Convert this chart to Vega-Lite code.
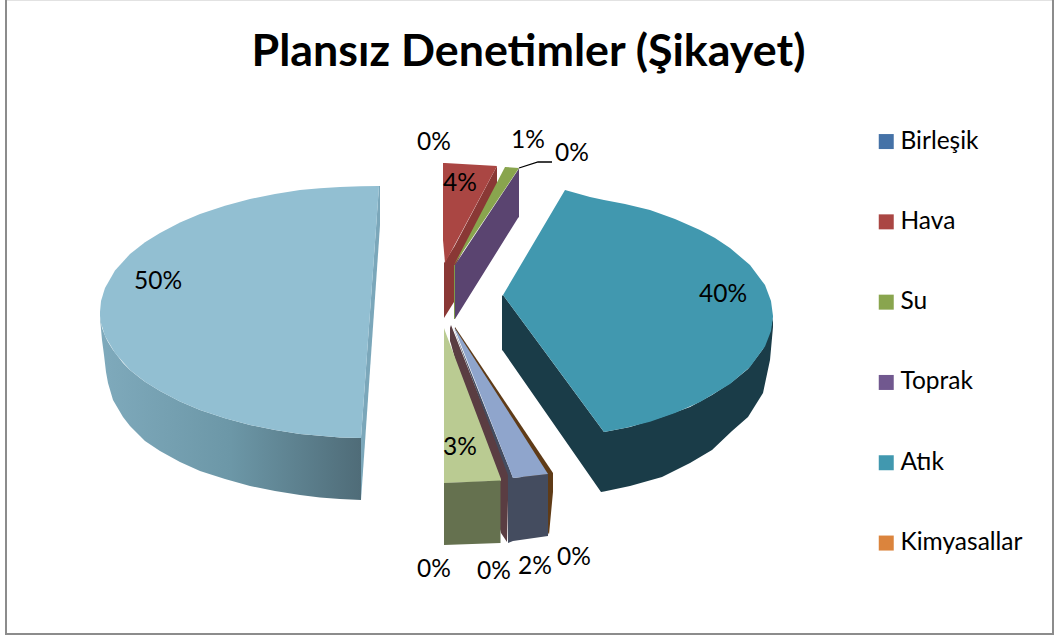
{"$schema":"https://vega.github.io/schema/vega-lite/v6.json","width":1047,"height":634.7,"autosize":"none","padding":{"left":6,"right":2,"top":-0.7,"bottom":3},"background":"#ffffff","view":{"stroke":"#8c8c8c","strokeWidth":2,"fill":"#ffffff"},"title":{"text":"Plansız Denetimler (Şikayet)","font":"Lato","fontWeight":"bold","fontSize":44.8,"color":"#000000","anchor":"middle","frame":"group","offset":-76.5,"dx":-1},"datasets":{"dilimler":[
{"parca":"Dilim 50 yan","z":0,"x":100,"y":316,"y2":318},{"parca":"Dilim 50 yan","z":0,"x":102,"y":328,"y2":340},{"parca":"Dilim 50 yan","z":0,"x":104,"y":333,"y2":355},{"parca":"Dilim 50 yan","z":0,"x":106,"y":338,"y2":372},{"parca":"Dilim 50 yan","z":0,"x":108,"y":342,"y2":383},{"parca":"Dilim 50 yan","z":0,"x":113,"y":350,"y2":400},{"parca":"Dilim 50 yan","z":0,"x":123,"y":363,"y2":417},{"parca":"Dilim 50 yan","z":0,"x":130,"y":370,"y2":426},{"parca":"Dilim 50 yan","z":0,"x":140,"y":378,"y2":436},{"parca":"Dilim 50 yan","z":0,"x":145,"y":381.7,"y2":441},{"parca":"Dilim 50 yan","z":0,"x":160,"y":391,"y2":451},{"parca":"Dilim 50 yan","z":0,"x":180,"y":401.5,"y2":462},{"parca":"Dilim 50 yan","z":0,"x":200,"y":410,"y2":471},{"parca":"Dilim 50 yan","z":0,"x":225,"y":418.3,"y2":479},{"parca":"Dilim 50 yan","z":0,"x":250,"y":425,"y2":486},{"parca":"Dilim 50 yan","z":0,"x":275,"y":430,"y2":491},{"parca":"Dilim 50 yan","z":0,"x":300,"y":434,"y2":495},{"parca":"Dilim 50 yan","z":0,"x":320,"y":435.8,"y2":497.6},{"parca":"Dilim 50 yan","z":0,"x":340,"y":437.5,"y2":499},{"parca":"Dilim 50 yan","z":0,"x":361,"y":438,"y2":500},
{"parca":"Atık yan","z":1,"x":502,"y":296,"y2":350},{"parca":"Atık yan","z":1,"x":503,"y":295,"y2":351},{"parca":"Atık yan","z":1,"x":601,"y":428,"y2":492},{"parca":"Atık yan","z":1,"x":604,"y":432,"y2":491.5},{"parca":"Atık yan","z":1,"x":630,"y":427,"y2":486},{"parca":"Atık yan","z":1,"x":662,"y":417,"y2":477},{"parca":"Atık yan","z":1,"x":690,"y":407,"y2":463},{"parca":"Atık yan","z":1,"x":712,"y":395,"y2":450},{"parca":"Atık yan","z":1,"x":732,"y":382,"y2":431},{"parca":"Atık yan","z":1,"x":748,"y":369,"y2":417},{"parca":"Atık yan","z":1,"x":763,"y":349,"y2":393},{"parca":"Atık yan","z":1,"x":770,"y":330,"y2":360},{"parca":"Atık yan","z":1,"x":773,"y":318,"y2":327},
{"parca":"Hava yan","z":1,"x":444,"y":263,"y2":318},{"parca":"Hava yan","z":1,"x":454,"y":247,"y2":302},{"parca":"Hava yan","z":1,"x":454.1,"y":247,"y2":268},{"parca":"Hava yan","z":1,"x":497,"y":166,"y2":186},
{"parca":"Kahve şerit","z":1,"x":455,"y":327,"y2":329},{"parca":"Kahve şerit","z":1,"x":549,"y":467,"y2":534.5},{"parca":"Kahve şerit","z":1,"x":553,"y":473,"y2":492},
{"parca":"Bordo şerit","z":1,"x":450,"y":328,"y2":341},{"parca":"Bordo şerit","z":1,"x":451,"y":325,"y2":344},{"parca":"Bordo şerit","z":1,"x":501,"y":452,"y2":533},{"parca":"Bordo şerit","z":1,"x":507,"y":470,"y2":542},{"parca":"Bordo şerit","z":1,"x":508,"y":470,"y2":500},
{"parca":"Dilim 50","z":2,"x":100,"y":312,"y2":316},{"parca":"Dilim 50","z":2,"x":101,"y":301,"y2":323},{"parca":"Dilim 50","z":2,"x":105,"y":288,"y2":336},{"parca":"Dilim 50","z":2,"x":115,"y":270.5,"y2":353},{"parca":"Dilim 50","z":2,"x":130,"y":254,"y2":370},{"parca":"Dilim 50","z":2,"x":145,"y":242.3,"y2":381.7},{"parca":"Dilim 50","z":2,"x":160,"y":233,"y2":391},{"parca":"Dilim 50","z":2,"x":180,"y":222.5,"y2":401.5},{"parca":"Dilim 50","z":2,"x":200,"y":214,"y2":410},{"parca":"Dilim 50","z":2,"x":225,"y":205.7,"y2":418.3},{"parca":"Dilim 50","z":2,"x":250,"y":199,"y2":425},{"parca":"Dilim 50","z":2,"x":275,"y":194,"y2":430},{"parca":"Dilim 50","z":2,"x":300,"y":190,"y2":434},{"parca":"Dilim 50","z":2,"x":320,"y":188.2,"y2":435.8},{"parca":"Dilim 50","z":2,"x":340,"y":187,"y2":437.5},{"parca":"Dilim 50","z":2,"x":361,"y":186.2,"y2":438},{"parca":"Dilim 50","z":2,"x":379,"y":186,"y2":186.5},
{"parca":"Dilim 50 kenar","z":1,"x":361,"y":438,"y2":500},{"parca":"Dilim 50 kenar","z":1,"x":379,"y":186,"y2":240},{"parca":"Dilim 50 kenar","z":1,"x":380,"y":186,"y2":225},
{"parca":"Atık","z":2,"x":503,"y":295,"y2":295},{"parca":"Atık","z":2,"x":565,"y":190,"y2":379},{"parca":"Atık","z":2,"x":590,"y":197,"y2":413},{"parca":"Atık","z":2,"x":604,"y":200,"y2":432},{"parca":"Atık","z":2,"x":625,"y":204,"y2":428},{"parca":"Atık","z":2,"x":650,"y":210,"y2":421.7},{"parca":"Atık","z":2,"x":675,"y":219,"y2":413},{"parca":"Atık","z":2,"x":700,"y":230,"y2":402},{"parca":"Atık","z":2,"x":715,"y":238,"y2":393},{"parca":"Atık","z":2,"x":730,"y":248,"y2":384},{"parca":"Atık","z":2,"x":750,"y":265,"y2":367},{"parca":"Atık","z":2,"x":765,"y":285,"y2":346.5},{"parca":"Atık","z":2,"x":771,"y":301,"y2":331},{"parca":"Atık","z":2,"x":773,"y":316,"y2":317},
{"parca":"Hava","z":2,"x":443,"y":163,"y2":240},{"parca":"Hava","z":2,"x":445,"y":163,"y2":263},{"parca":"Hava","z":2,"x":497,"y":166,"y2":166},
{"parca":"Toprak yan","z":2,"x":455,"y":265,"y2":319},{"parca":"Toprak yan","z":2,"x":518,"y":170,"y2":218},{"parca":"Toprak yan","z":2,"x":519,"y":168,"y2":217},
{"parca":"Su yan","z":2,"x":454,"y":265,"y2":319},{"parca":"Su yan","z":2,"x":455,"y":265,"y2":319},
{"parca":"Dilim 3","z":2,"x":444,"y":328,"y2":483},{"parca":"Dilim 3","z":2,"x":445,"y":331,"y2":483},{"parca":"Dilim 3","z":2,"x":501,"y":479,"y2":481},
{"parca":"Dilim 3 yan","z":2,"x":444,"y":483,"y2":545},{"parca":"Dilim 3 yan","z":2,"x":500.5,"y":480.5,"y2":543},
{"parca":"Sleyt","z":2,"x":453,"y":327,"y2":327},{"parca":"Sleyt","z":2,"x":507.9,"y":465,"y2":475},{"parca":"Sleyt","z":2,"x":508,"y":465,"y2":543},{"parca":"Sleyt","z":2,"x":513,"y":478,"y2":541},{"parca":"Sleyt","z":2,"x":548,"y":474,"y2":536},
{"parca":"Dilim 2","z":2,"x":454,"y":327,"y2":327},{"parca":"Dilim 2","z":2,"x":513,"y":419,"y2":478},{"parca":"Dilim 2","z":2,"x":548,"y":474,"y2":474},
{"parca":"Su","z":3,"x":454,"y":265,"y2":265},{"parca":"Su","z":3,"x":505,"y":167,"y2":189},{"parca":"Su","z":3,"x":519,"y":168,"y2":168}
],"etiketler":[
{"etiket":"0%","x":434,"y":143},{"etiket":"4%","x":460,"y":184},{"etiket":"1%","x":528,"y":141},{"etiket":"0%","x":572,"y":154},{"etiket":"50%","x":158,"y":282},{"etiket":"40%","x":723,"y":295},{"etiket":"3%","x":460,"y":448},{"etiket":"0%","x":434,"y":570},{"etiket":"0%","x":494,"y":572},{"etiket":"2%","x":535,"y":567},{"etiket":"0%","x":574,"y":558}
],"kilavuz":[{"x":519,"y":168},{"x":538,"y":162},{"x":552,"y":162}]},
"encoding":{"x":{"field":"x","type":"quantitative","axis":null,"scale":{"domain":[6,1053],"nice":false,"zero":false}},"y":{"field":"y","type":"quantitative","axis":null,"scale":{"domain":[634,-0.7],"nice":false,"zero":false}}},
"layer":[
{"data":{"name":"dilimler"},"transform":[{"filter":"datum.z==0"}],"mark":{"type":"area","fill":{"gradient":"linear","x1":0,"y1":0,"x2":1,"y2":0,"stops":[{"offset":0,"color":"#7FAABC"},{"offset":0.5,"color":"#6C97A7"},{"offset":1,"color":"#4F6C78"}]}},"encoding":{"y2":{"field":"y2"}}},
{"data":{"name":"dilimler"},"transform":[{"filter":"datum.z==1"}],"mark":{"type":"area"},"encoding":{"y2":{"field":"y2"},"color":{"field":"parca","type":"nominal","scale":{"domain":["Birleşik","Hava","Su","Toprak","Atık","Kimyasallar","Dilim 50","Dilim 50 kenar","Dilim 3","Dilim 3 yan","Dilim 2","Sleyt","Bordo şerit","Kahve şerit","Atık yan","Hava yan","Su yan","Toprak yan"],"range":["#4572A7","#AA4643","#89A54E","#71588F","#4198AF","#DB843D","#92BFD2","#7BA7BA","#BACB92","#65714F","#8FA5CC","#444C5F","#5A3D42","#5F3B17","#1A3C48","#8A3835","#7F9B4A","#5A4470"]},"legend":{"values":["Birleşik","Hava","Su","Toprak","Atık","Kimyasallar"],"title":null,"orient":"none","legendX":868,"legendY":130,"symbolType":"square","symbolSize":225,"symbolStrokeWidth":0,"labelFont":"Lato","labelFontSize":24.5,"labelColor":"#000000","labelOffset":2,"rowPadding":55.3,"labelLimit":200}}}},
{"data":{"name":"dilimler"},"transform":[{"filter":"datum.z==2"}],"mark":{"type":"area"},"encoding":{"y2":{"field":"y2"},"color":{"field":"parca","type":"nominal"}}},
{"data":{"name":"dilimler"},"transform":[{"filter":"datum.z==3"}],"mark":{"type":"area"},"encoding":{"y2":{"field":"y2"},"color":{"field":"parca","type":"nominal"}}},
{"data":{"name":"kilavuz"},"mark":{"type":"line","color":"#000000","strokeWidth":1.3},"encoding":{}},
{"data":{"name":"etiketler"},"mark":{"type":"text","font":"Lato","fontSize":24.5,"color":"#000000","align":"center","baseline":"middle"},"encoding":{"text":{"field":"etiket","type":"nominal"}}}
]}
